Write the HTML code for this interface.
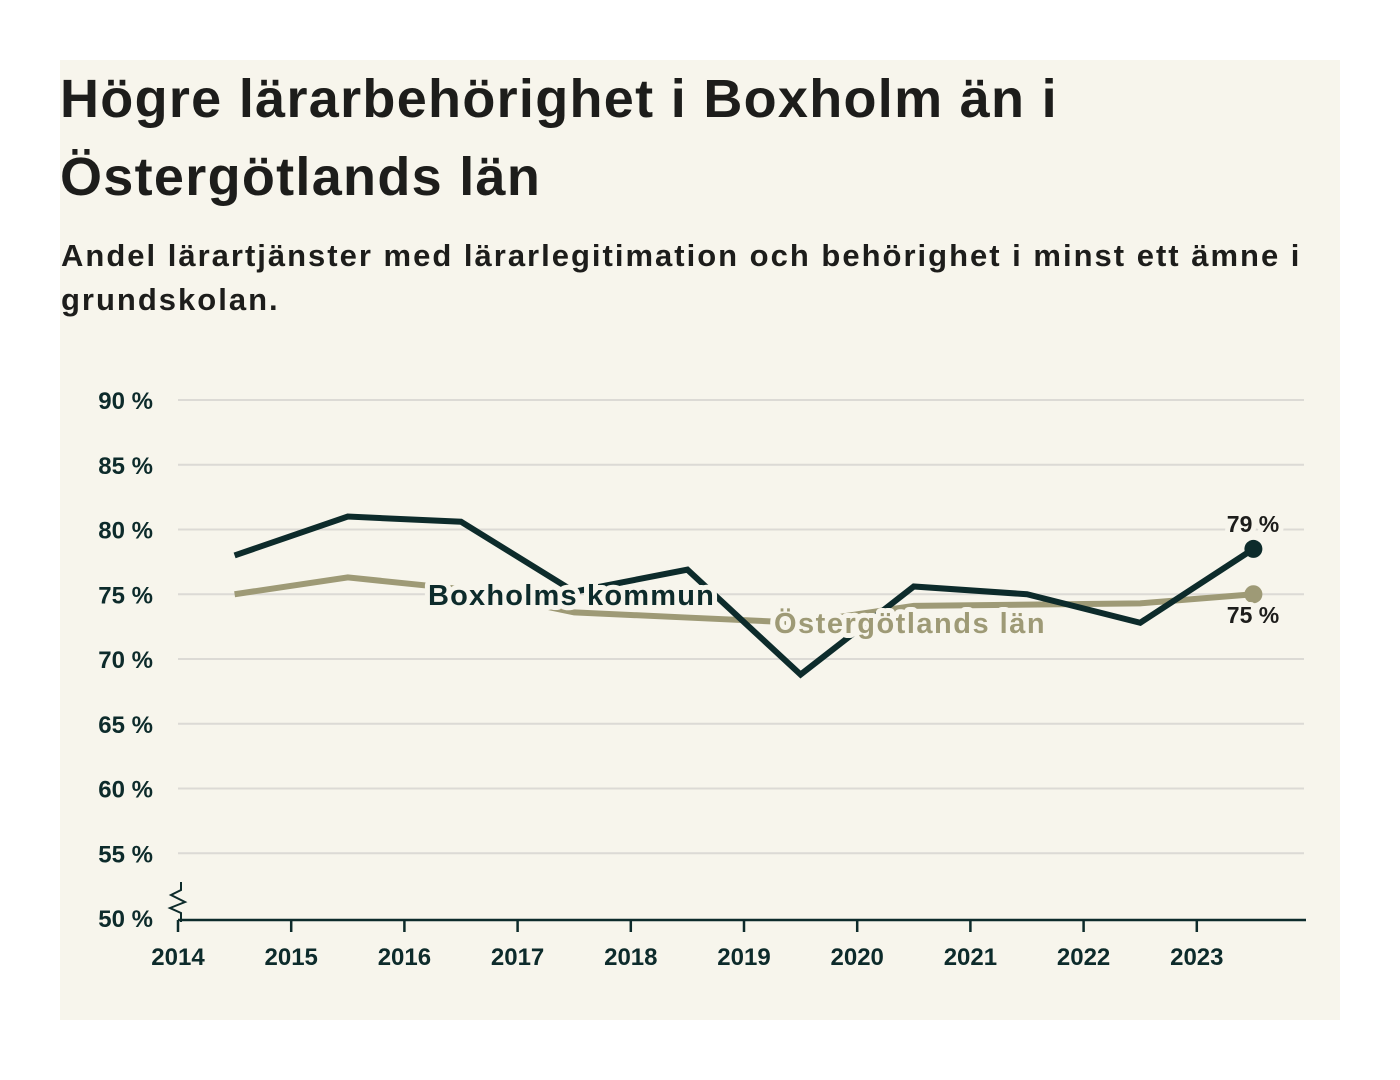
<!DOCTYPE html>
<html><head><meta charset="utf-8"><style>
body{margin:0;background:#fff;width:1400px;height:1080px;overflow:hidden;font-family:"Liberation Sans",sans-serif;}
#panel{position:absolute;left:60px;top:60px;width:1280px;height:960px;background:#f7f5ec;}
h1{position:absolute;left:60px;top:60px;margin:0;font-size:54px;line-height:78px;font-weight:bold;color:#1d1d1b;letter-spacing:1.3px;width:1260px;white-space:nowrap}
p.sub{position:absolute;left:61px;top:234px;margin:0;font-size:31px;line-height:44px;font-weight:bold;color:#1d1d1b;width:1280px;letter-spacing:2px;white-space:nowrap}
svg{position:absolute;left:0;top:0}
</style></head><body>
<div id="panel"></div>
<h1>Högre lärarbehörighet i Boxholm än i<br>Östergötlands län</h1>
<p class="sub">Andel lärartjänster med lärarlegitimation och behörighet i minst ett ämne i<br>grundskolan.</p>
<svg id="c" width="1400" height="1080"></svg>
<script>
const years=[2014,2015,2016,2017,2018,2019,2020,2021,2022,2023];
const yTicks=[50,55,60,65,70,75,80,85,90];
const boxholm=[78.0,81.0,80.6,75.2,76.9,68.8,75.6,75.0,72.8,78.5];
const ostergotland=[75.0,76.3,75.4,73.6,73.2,72.8,74.1,74.2,74.3,75.0];
const NS='http://www.w3.org/2000/svg';
const svg=document.getElementById('c');
const x=v=>178+(v-2014)*113.2;
const y=v=>918-(v-50)*12.95;
function el(t,a){const e=document.createElementNS(NS,t);for(const k in a)e.setAttribute(k,a[k]);svg.appendChild(e);return e;}
yTicks.forEach(t=>{
  if(t>50){const g=el('line',{x1:178,x2:1304,y1:y(t),y2:y(t),stroke:'#dcdad5','stroke-width':2});
  
  }
  const l=el('text',{x:153,y:y(t)+9,'text-anchor':'end','font-size':24,'font-weight':'bold',fill:'#0d2b2b'});
  l.textContent=t+' %';
  
  
});
const ax=el('line',{x1:178,x2:1306,y1:920,y2:920,stroke:'#0d2b2b','stroke-width':2.5});


const br=el('polyline',{points:'181,882 181,890 171,895 185,902 170,908 181,913 181,922',fill:'none',stroke:'#0d2b2b','stroke-width':2});


years.forEach(yr=>{
  const tk=el('line',{x1:x(yr),x2:x(yr),y1:920,y2:932,stroke:'#0d2b2b','stroke-width':2.5});
  
  
  const l=el('text',{x:x(yr),y:965,'text-anchor':'middle','font-size':24,'font-weight':'bold',fill:'#0d2b2b'});
  l.textContent=yr;
  
  
});
function series(d,c,n){
  const p=el('polyline',{points:d.map((v,i)=>x(years[i]+0.5)+','+y(v)).join(' '),fill:'none',stroke:c,'stroke-width':6,'stroke-linejoin':'miter'});
  
  
  const dt=el('circle',{cx:x(years[years.length-1]+0.5),cy:y(d[d.length-1]),r:9,fill:c});
  
  
}
series(ostergotland,'#9e9a76','ostergotland');
series(boxholm,'#0d2b2b','boxholm');
function lab(t,xx,yy,c,n,sz,anchor,ls){
  const l=el('text',{x:xx,y:yy,'font-size':sz,'font-weight':'bold',fill:c,'text-anchor':anchor||'start','letter-spacing':ls||0,stroke:'#f7f5ec','stroke-width':10,'paint-order':'stroke','stroke-linejoin':'round'});
  l.textContent=t;
  
  
}
lab('Boxholms kommun',428,605,'#0d2b2b','boxholm-label',29,'start',1.2);
lab('Östergötlands län',774,633,'#9e9a76','ostergotland-label',29,'start',1.5);
lab(Math.round(boxholm[9])+' %',1253,532,'#1d1d1b','boxholm-end-value',23,'middle');
lab(Math.round(ostergotland[9])+' %',1253,623,'#1d1d1b','ostergotland-end-value',23,'middle');
</script>
</body></html>
